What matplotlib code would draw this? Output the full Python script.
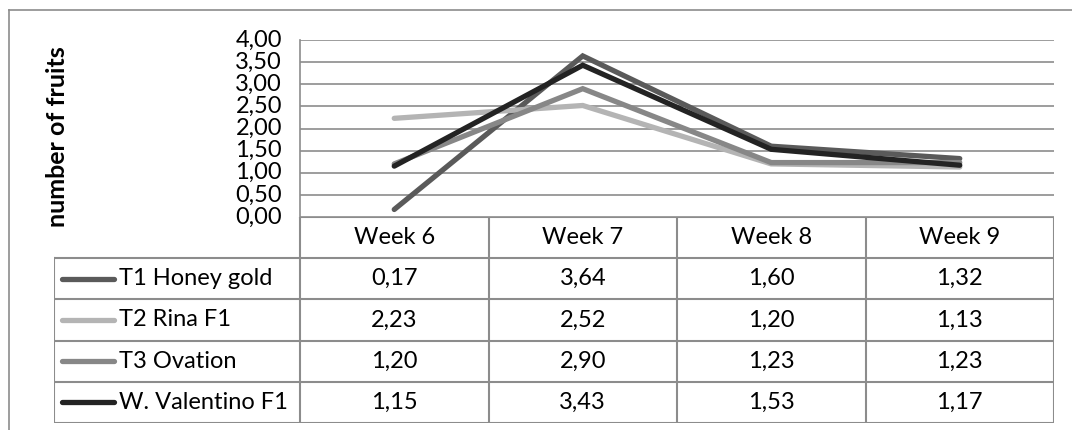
import matplotlib
matplotlib.use("Agg")
import matplotlib.pyplot as plt
from matplotlib.lines import Line2D
from matplotlib.ticker import FuncFormatter, MultipleLocator

plt.rcParams['font.family'] = ['Lato', 'DejaVu Sans']

# data
weeks = ["Week 6", "Week 7", "Week 8", "Week 9"]
series_names = ["T1 Honey gold", "T2 Rina F1", "T3 Ovation", "W. Valentino F1"]
honey_gold = [0.17, 3.64, 1.60, 1.32]
rina_f1 = [2.23, 2.52, 1.20, 1.13]
ovation = [1.20, 2.90, 1.23, 1.23]
valentino = [1.15, 3.43, 1.53, 1.17]
series_values = [honey_gold, rina_f1, ovation, valentino]
series_colors = ["#5a5a5a", "#b4b4b4", "#878787", "#232323"]

W, H = 1072, 430
fs = 17
grid_c = "#8c8c8c"

fig = plt.figure(figsize=(W / 100, H / 100), dpi=100)

def fx(px):
    return px / W

def fy(py):
    return 1 - py / H

# outer chart frame (top + left)
fig.add_artist(Line2D([fx(9), 1], [fy(10), fy(10)], color=grid_c, lw=1.2))
fig.add_artist(Line2D([fx(9), fx(9)], [fy(10), 0], color=grid_c, lw=1.2))

# line plot area
x0, x1, ytop, ybot = 300, 1054, 40, 217
ax = fig.add_axes([fx(x0), fy(ybot), fx(x1 - x0), (ybot - ytop) / H])
xs = list(range(len(weeks)))
for vals, c in zip(series_values, series_colors):
    ax.plot(xs, vals, color=c, lw=3.8, solid_capstyle="round", solid_joinstyle="miter")
ax.set_xlim(-0.5, len(weeks) - 0.5)
ax.set_ylim(0, 4)
ax.yaxis.set_major_locator(MultipleLocator(0.5))
ax.yaxis.set_major_formatter(FuncFormatter(lambda v, p: f"{v:.2f}".replace(".", ",")))
ax.grid(axis="y", color=grid_c, lw=1.2)
ax.set_axisbelow(True)
ax.set_xticks([])
ax.tick_params(axis="y", length=0, pad=13, labelsize=fs)
for lab in ax.get_yticklabels():
    lab.set_verticalalignment("center")
for s in ["top", "right", "bottom"]:
    ax.spines[s].set_visible(False)
ax.spines["left"].set_color(grid_c)
ax.spines["left"].set_linewidth(1.2)
ax.patch.set_alpha(0)

fig.text(fx(58), fy(137), "number of fruits", rotation=90, ha="center", va="center",
         fontsize=18, fontweight="bold")

# data table under the plot
u = (x1 - x0) / len(weeks)
lab_w = 246
tleft, tbot = 54, 423
tax = fig.add_axes([fx(tleft), fy(tbot), fx(x1 - tleft), (tbot - ybot) / H])
L = -0.5 - lab_w / u
nrows = len(series_names) + 1
tax.set_xlim(L, len(weeks) - 0.5)
tax.set_ylim(nrows, 0)
tax.axis("off")

lk = dict(color=grid_c, lw=1.5, solid_capstyle="projecting")
for r in range(1, nrows + 1):
    tax.plot([L, len(weeks) - 0.5], [r, r], **lk)
tax.plot([-0.5, len(weeks) - 0.5], [0, 0], **lk)
tax.plot([L, L], [1, nrows], **lk)
for c in range(len(weeks) + 1):
    tax.plot([c - 0.5, c - 0.5], [0, nrows], **lk)

for i, w in enumerate(weeks):
    tax.text(i, 0.5, w, ha="center", va="center", fontsize=fs)

for r, (name, vals, c) in enumerate(zip(series_names, series_values, series_colors), start=1):
    tax.plot([L + 8 / u, L + 60 / u], [r + 0.5, r + 0.5], color=c, lw=3.8, solid_capstyle="round")
    tax.text(L + 65 / u, r + 0.5, name, ha="left", va="center", fontsize=fs)
    for i, v in enumerate(vals):
        tax.text(i, r + 0.5, f"{v:.2f}".replace(".", ","), ha="center", va="center", fontsize=fs)

fig.savefig("out.png", dpi=100)
